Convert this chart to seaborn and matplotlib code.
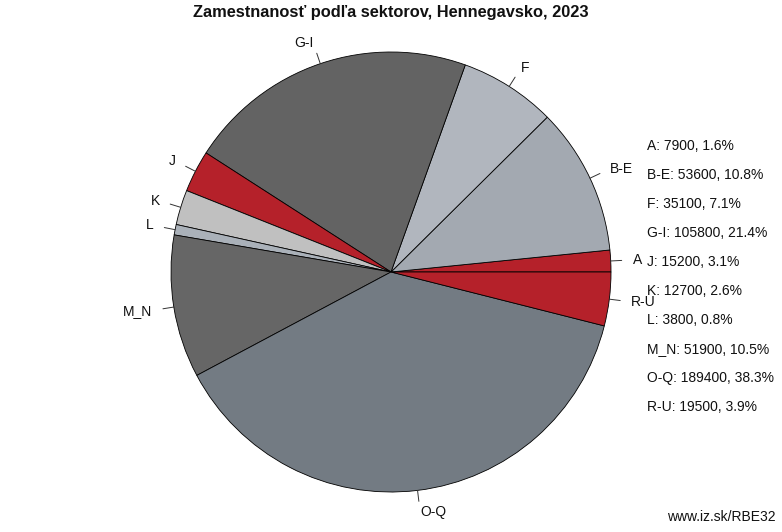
import numpy as np
import matplotlib
matplotlib.use("Agg")
import matplotlib.pyplot as plt
import seaborn as sns

sectors = ["A", "B-E", "F", "G-I", "J", "K", "L", "M_N", "O-Q", "R-U"]
employment = [7900, 53600, 35100, 105800, 15200, 12700, 3800, 51900, 189400, 19500]
shares = [1.6, 10.8, 7.1, 21.4, 3.1, 2.6, 0.8, 10.5, 38.3, 3.9]
colors = ["#b5212a", "#a3a9b1", "#b1b6be", "#636363", "#b5212a",
          "#c0c0c0", "#aab1b9", "#666666", "#737b83", "#b5212a"]

title = "Zamestnanosť podľa sektorov, Hennegavsko, 2023"
source = "www.iz.sk/RBE32"

sns.set_theme(style="white")
plt.rcParams["font.family"] = ["Liberation Sans", "DejaVu Sans"]

W, H = 782, 532
fig = plt.figure(figsize=(W / 100, H / 100), dpi=100)
cx, cy, R = 391, 272, 220
ax = fig.add_axes([(cx - R) / W, (H - cy - R) / H, 2 * R / W, 2 * R / H])

wedges, _ = ax.pie(employment, colors=colors, startangle=0, counterclock=True,
                   radius=1.0,
                   wedgeprops=dict(edgecolor="black", linewidth=0.6))
ax.set_xlim(-1, 1)
ax.set_ylim(-1, 1)
ax.set_aspect("equal")
ax.axis("off")

for w, lab in zip(wedges, sectors):
    ang = np.deg2rad((w.theta1 + w.theta2) / 2)
    c, s = np.cos(ang), np.sin(ang)
    ax.plot([c, 1.05 * c], [s, 1.05 * s], color="#333333", lw=0.7, clip_on=False)
    ax.text(1.1 * c, 1.1 * s, lab, ha="left" if c > 0 else "right", va="center",
            fontsize=10, color="#111111", clip_on=False)

y0 = 146
for i, (lab, v, p) in enumerate(zip(sectors, employment, shares)):
    fig.text(647 / W, 1 - (y0 + i * 29) / H, f"{lab}: {v}, {p}%",
             ha="left", va="center", fontsize=10, color="#111111")

fig.text(391 / W, 1 - 12 / H, title, ha="center", va="center",
         fontsize=11.8, fontweight="bold", color="#111111")
fig.text(776 / W, 1 - 517 / H, source, ha="right", va="center",
         fontsize=10, color="#111111")

fig.savefig("out.png", dpi=100)
